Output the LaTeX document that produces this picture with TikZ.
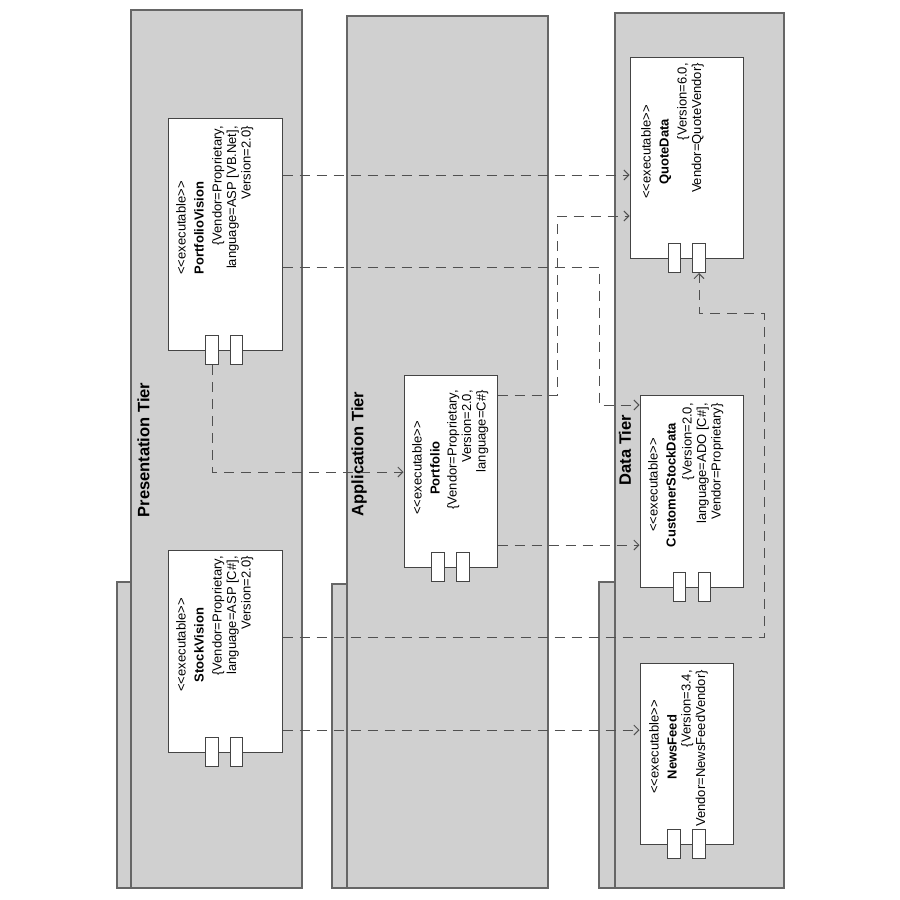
\documentclass[tikz,border=0pt]{standalone}
\usepackage{fontspec}
\setmainfont{Liberation Sans}
\usetikzlibrary{arrows.meta}
\definecolor{tierfill}{HTML}{D0D0D0}
\definecolor{tierline}{HTML}{666666}
\definecolor{compline}{HTML}{444444}
\definecolor{depline}{HTML}{505050}
\newcommand{\stereo}[1]{\textless\kern0pt\textless #1\textgreater\kern0pt\textgreater}

\begin{document}
\begin{tikzpicture}[x=1pt,y=-1pt,
  tier/.style={draw=tierline, fill=tierfill, line width=1.2pt},
  comp/.style={draw=compline, fill=white, line width=1pt, inner sep=0pt},
  port/.style={draw=compline, fill=white, line width=1pt, inner sep=0pt,
               minimum width=12.5pt, minimum height=29pt},
  hdr/.style={rotate=90, anchor=north, inner sep=0pt, align=center,
              font=\fontsize{13}{18}\selectfont},
  props/.style={rotate=90, anchor=north east, inner sep=0pt, align=right,
                font=\fontsize{13}{14.5}\selectfont},
  tiertitle/.style={rotate=90, inner sep=0pt, font=\fontsize{16.5}{20}\selectfont\bfseries},
  dep/.style={draw=depline, line width=0.9pt, dash pattern=on 10pt off 7pt,
              -{Straight Barb[length=5pt,width=10pt]}},
]
\fill[white] (0,0) rectangle (900,900);
\useasboundingbox (0,0) rectangle (900,900);

% ---- tiers (packages, drawn on their side) ----
\draw[tier] (117,582) rectangle (131,888);
\draw[tier] (131,10) rectangle (302,888);
\draw[tier] (332,584) rectangle (347,888);
\draw[tier] (347,16) rectangle (548,888);
\draw[tier] (599,582) rectangle (615,888);
\draw[tier] (615,13) rectangle (784,888);

\node[tiertitle] (prestitle) at (143.5,450) {Presentation Tier};
\node[tiertitle] (apptitle)  at (359,454)   {Application Tier};
\node[tiertitle] (datatitle) at (625,450)   {Data Tier};

% ---- components ----
\node[comp, minimum width=114pt, minimum height=232pt] (pv)  at (225,234)   {};
\node[comp, minimum width=114pt, minimum height=202pt] (sv)  at (225,651)   {};
\node[comp, minimum width=93pt,  minimum height=192pt] (pf)  at (450.5,471) {};
\node[comp, minimum width=113pt, minimum height=201pt] (qd)  at (686.5,157.5) {};
\node[comp, minimum width=103pt, minimum height=192pt] (csd) at (691.5,491) {};
\node[comp, minimum width=93pt,  minimum height=181pt] (nf)  at (686.5,753.5) {};

% interface tabs
\node[port] (pvp1)  at (212,350)   {};
\node[port] (pvp2)  at (236.5,350) {};
\node[port] (svp1)  at (212,752)   {};
\node[port] (svp2)  at (236.5,752) {};
\node[port] (pfp1)  at (438,567)   {};
\node[port] (pfp2)  at (463,567)   {};
\node[port] (qdp1)  at (674.5,258) {};
\node[port] (qdp2)  at (699,258)   {};
\node[port] (csdp1) at (679.5,587) {};
\node[port] (csdp2) at (704.5,587) {};
\node[port] (nfp1)  at (674,844)   {};
\node[port] (nfp2)  at (699,844)   {};

% component texts
\node[hdr] (pvh) at (176,228) {\stereo{executable}\\\textbf{PortfolioVision}};
\node[props] (pvt) at (212,126) {\{Vendor=Proprietary,\\language=ASP [VB.Net],\\Version=2.0\}};

\node[hdr] (svh) at (176,645) {\stereo{executable}\\\textbf{StockVision}};
\node[props] (svt) at (212,556) {\{Vendor=Proprietary,\\language=ASP [C\#],\\Version=2.0\}};

\node[hdr] (pfh) at (412,468) {\stereo{executable}\\\textbf{Portfolio}};
\node[props] (pft) at (447,390) {\{Vendor=Proprietary,\\Version=2.0,\\language=C\#\}};

\node[hdr] (qdh) at (641,152) {\stereo{executable}\\\textbf{QuoteData}};
\node[props] (qdt) at (677,63) {\{Version=6.0,\\Vendor=QuoteVendor\}};

\node[hdr] (csdh) at (648,485) {\stereo{executable}\\\textbf{CustomerStockData}};
\node[props] (csdt) at (682,403) {\{Version=2.0,\\language=ADO [C\#],\\Vendor=Proprietary\}};

\node[hdr] (nfh) at (649,747) {\stereo{executable}\\\textbf{NewsFeed}};
\node[props] (nft) at (681,670) {\{Version=3.4,\\Vendor=NewsFeedVendor\}};

% ---- dependencies ----
\coordinate (r1) at (0,175);
\coordinate (b2) at (599,267);
\coordinate (r2) at (0,405);
\coordinate (r3) at (0,472);
\coordinate (b4) at (557,395);
\coordinate (r5) at (0,216);
\coordinate (r6) at (0,545);
\coordinate (b6) at (764,637);
\coordinate (r7) at (0,313);
\coordinate (r8) at (0,730);

\draw[dep] (pv.east |- r1) -- (qd.west |- r1);
\draw[dep] (pv.east |- b2) -- (b2) |- (csd.west |- r2);
\draw[dep] (pvp1.south) |- (pf.west |- r3);
\draw[dep] (pf.east |- b4) -- (b4) |- (qd.west |- r5);
\draw[dep] (pf.east |- r6) -- (csd.west |- r6);
\draw[dep] (sv.east |- b6) -- (b6) |- (qdp2.south |- r7) -- (qdp2.south);
\draw[dep] (sv.east |- r8) -- (nf.west |- r8);
\end{tikzpicture}
\end{document}
